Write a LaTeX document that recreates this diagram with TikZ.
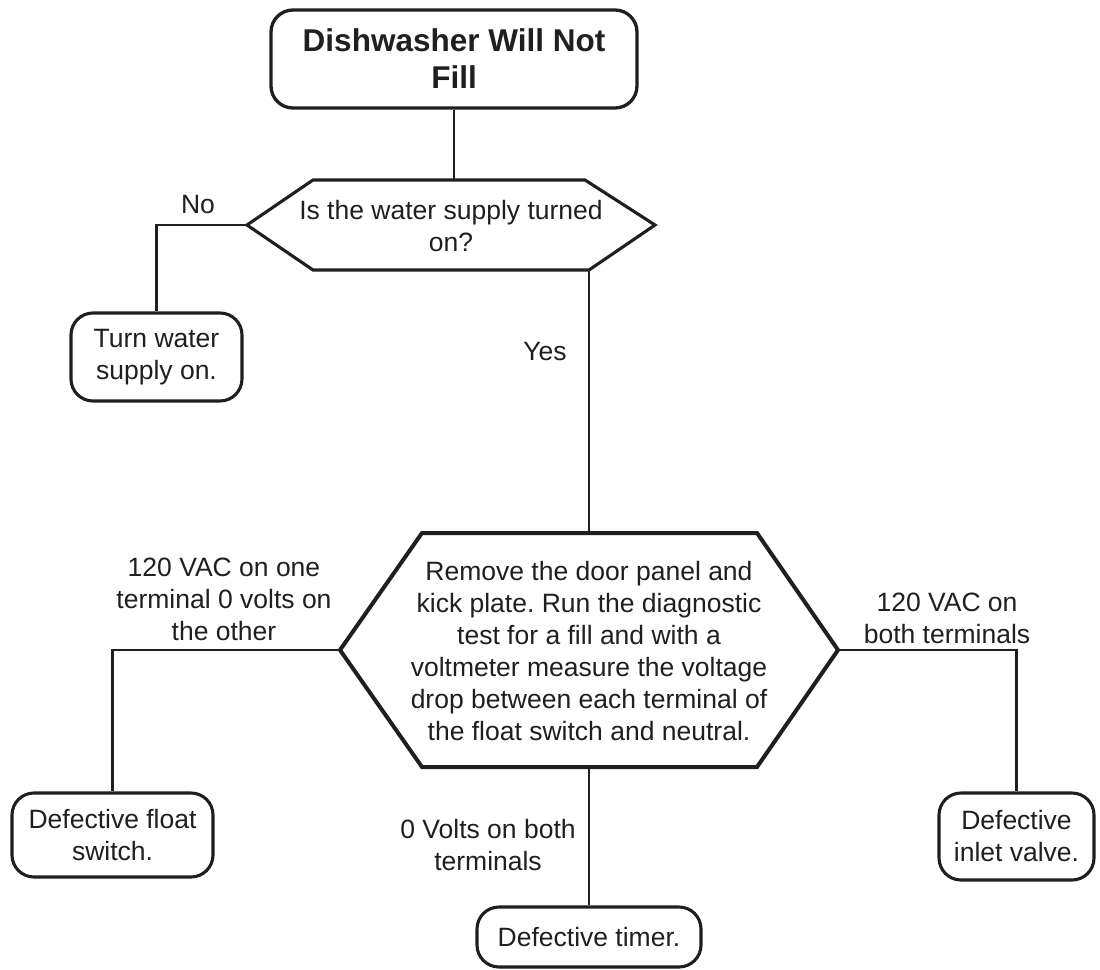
\documentclass[tikz,border=0pt]{standalone}
\usepackage{fontspec}
\setmainfont{Liberation Sans}
\frenchspacing
\begin{document}
\begin{tikzpicture}[x=1pt,y=-1pt,
  ink/.style={draw=black!88, line width=3.1pt},
  wire/.style={draw=black!88, line width=2.8pt},
  endbox/.style={ink, rounded corners=22pt, align=center, inner sep=0pt,
    font=\fontsize{26.5}{32}\selectfont, text=black!88},
  txt/.style={align=center, inner sep=0pt, font=\fontsize{26.5}{32}\selectfont, text=black!88}]
\useasboundingbox (0,0) rectangle (1100,969);
% title
\node[endbox, line width=3.3pt, minimum width=366pt, minimum height=98pt,
  font=\bfseries\fontsize{31.5}{37}\selectfont] (title) at (454,59) {Dishwasher Will Not\\Fill};
% question hexagon
\coordinate (qL) at (247,225);
\coordinate (qR) at (655,225);
\coordinate (qTL) at (313,180);
\coordinate (qTR) at (585,180);
\coordinate (qBL) at (313,270);
\coordinate (qBR) at (589,270);
\draw[ink] (qL) -- (qTL) -- (qTR) -- (qR) -- (qBR) -- (qBL) -- cycle;
\node[txt] (q) at (451,226) {Is the water supply turned\\on?};
% turn water
\node[endbox, minimum width=171pt, minimum height=88pt] (turn) at (156.5,357) {Turn water\\supply on.};
% big hexagon
\coordinate (tL) at (340,650);
\coordinate (tR) at (838,650);
\coordinate (tTL) at (422,533);
\coordinate (tTR) at (757,533);
\coordinate (tBL) at (422,767);
\coordinate (tBR) at (757,767);
\coordinate (tT) at (589,533);
\coordinate (tB) at (589,767);
\draw[ink, line width=4pt, line join=miter] (tL) -- (tTL) -- (tTR) -- (tR) -- (tBR) -- (tBL) -- cycle;
\node[txt] (test) at (589,651) {Remove the door panel and\\kick plate. Run the diagnostic\\test for a fill and with a\\voltmeter measure the voltage\\drop between each terminal of\\the float switch and neutral.};
% outcome boxes
\node[endbox, minimum width=201pt, minimum height=84pt] (float) at (112.5,835) {Defective float\\switch.};
\node[endbox, minimum width=155pt, minimum height=87pt] (inlet) at (1016.5,836.5) {Defective\\inlet valve.};
\node[endbox, minimum width=224pt, minimum height=60pt] (timer) at (589,937) {Defective timer.};
% connectors
\draw[wire] (title.south) -- (title.south |- qTL);
\draw[wire] (qL) -- (turn.north |- qL) -- (turn.north);
\draw[wire] (qBR) -- (tT);
\draw[wire] (tL) -- (float.north |- tL) -- (float.north);
\draw[wire] (tR) -- (inlet.north |- tR) -- (inlet.north);
\draw[wire] (tB) -- (timer.north);
% labels
\node[txt] (lno) at (198,205) {No};
\node[txt] (lyes) at (545,352) {Yes};
\node[txt] (lleft) at (224,599) {120 VAC on one\\terminal 0 volts on\\the other};
\node[txt] (lright) at (947,618) {120 VAC on\\both terminals};
\node[txt] (lbot) at (488,845) {0 Volts on both\\terminals};
\end{tikzpicture}
\end{document}
